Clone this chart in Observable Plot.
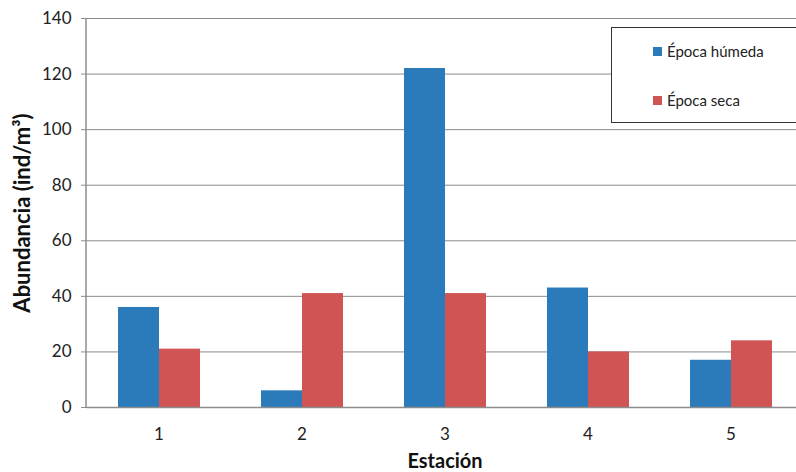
<!DOCTYPE html>
<html><head><meta charset="utf-8">
<script src="https://cdn.jsdelivr.net/npm/d3@7"></script>
<script src="https://cdn.jsdelivr.net/npm/@observablehq/plot@0.6"></script>
<style>
body{margin:0;background:#fff;}
#wrap{position:relative;width:796px;height:472px;overflow:hidden;font-family:Lato,"Open Sans",sans-serif;}
#wrap svg{font-family:Lato,"Open Sans",sans-serif;max-width:none !important;}
g[aria-label="y-axis tick label"]{font-size:17px;fill:#222;}
g[aria-label="fx-axis tick label"]{font-size:17px;fill:#222;}
g[aria-label="y-axis label"]{font-size:22px;font-weight:bold;fill:#111;}
g[aria-label="fx-axis label"]{font-size:20px;font-weight:bold;fill:#111;}
.legend{position:absolute;left:611px;top:27px;width:200px;height:96px;border:1.5px solid #333;background:#fff;box-sizing:border-box;font-size:15px;color:#222;}
.legend .item{position:absolute;left:41px;display:flex;align-items:center;}
.legend .sw{width:9px;height:9px;margin-right:5px;}
</style></head>
<body><div id="wrap"></div>
<script>
const stations = ["1","2","3","4","5"];
const series = ["Época húmeda","Época seca"];
const humeda = [36, 6, 122, 43, 17];
const seca = [21, 41, 41, 20, 24];
const yTicks = [0,20,40,60,80,100,120,140];
const colors = ["#2b7bba","#d05454"];

const data = [];
stations.forEach((s,i)=>{
  data.push({station:s, serie:series[0], value:humeda[i]});
  data.push({station:s, serie:series[1], value:seca[i]});
});

const chart = Plot.plot({
  width:802, height:472,
  marginLeft:86, marginRight:0, marginTop:18, marginBottom:65,
  fx:{domain:stations, padding:0},
  x:{domain:series, paddingInner:0, paddingOuter:0.73, axis:null},
  y:{domain:[0,140]},
  color:{domain:series, range:colors},
  marks:[
    Plot.gridY(yTicks, {stroke:"#8c8c8c", strokeOpacity:1, strokeWidth:1}),
    Plot.barY(data, {fx:"station", x:"serie", y:"value", fill:"serie"}),
    Plot.ruleY([0], {stroke:"#8c8c8c", strokeWidth:1.5}),
    Plot.axisY(yTicks, {tickSize:6, tickPadding:10, stroke:"#8c8c8c", label:"Abundancia (ind/m³)", labelAnchor:"center", labelArrow:"none", labelOffset:73}),
    Plot.axisFx({anchor:"bottom", tickSize:0, tickPadding:20, label:"Estación", labelAnchor:"center", labelArrow:"none", labelOffset:60})
  ]
});
chart.style.maxWidth = "none";
const wrap = document.getElementById("wrap");
wrap.appendChild(chart);

// vertical y-axis line, positioned with the chart's own y scale
const ys = chart.scale("y");
const y0 = ys.apply(0), y1 = ys.apply(140);
d3.select(chart).append("line")
  .attr("x1", 86).attr("x2", 86).attr("y1", y0).attr("y2", y1)
  .attr("stroke", "#8c8c8c").attr("stroke-width", 1.5);

const leg = document.createElement("div");
leg.className = "legend";
series.forEach((s,i)=>{
  const it = document.createElement("div");
  it.className = "item";
  it.style.top = (i===0 ? 14 : 63) + "px";
  const sw = document.createElement("span");
  sw.className = "sw"; sw.style.background = colors[i];
  const t = document.createElement("span"); t.textContent = s;
  it.appendChild(sw); it.appendChild(t);
  leg.appendChild(it);
});
wrap.appendChild(leg);
</script></body></html>
